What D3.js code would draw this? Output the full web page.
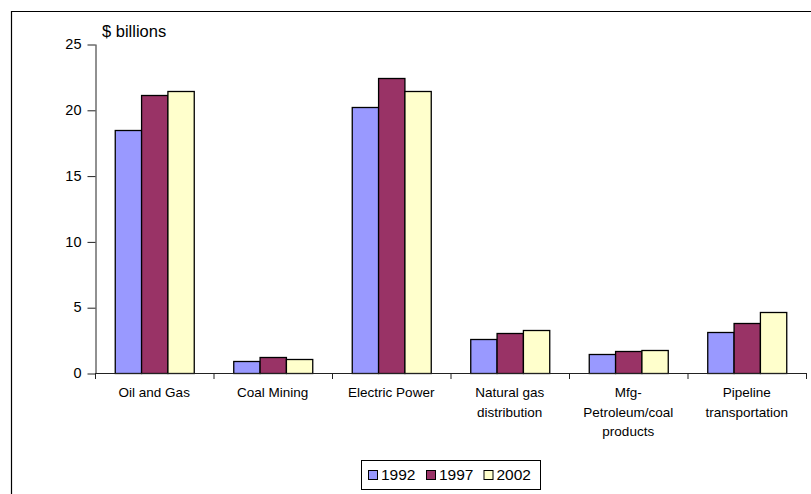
<!DOCTYPE html>
<html>
<head>
<meta charset="utf-8">
<script src="https://cdn.jsdelivr.net/npm/d3@7"></script>
<style>
  html, body { margin: 0; padding: 0; background: #fff; }
  svg { display: block; font-family: "Liberation Sans", Arial, sans-serif; }
</style>
</head>
<body>
<svg id="chart" width="811" height="494"></svg>
<script>
// Industry groups (label lines) and spending by year, $ billions
const categories = [
  ["Oil and Gas"],
  ["Coal Mining"],
  ["Electric Power"],
  ["Natural gas", "distribution"],
  ["Mfg-", "Petroleum/coal", "products"],
  ["Pipeline", "transportation"]
];
const years = ["1992", "1997", "2002"];
const values1992 = [18.5, 0.9, 20.25, 2.6, 1.45, 3.1];
const values1997 = [21.15, 1.2, 22.4, 3.05, 1.65, 3.8];
const values2002 = [21.45, 1.05, 21.45, 3.3, 1.75, 4.6];
const yTicks = [0, 5, 10, 15, 20, 25];

const seriesValues = [values1992, values1997, values2002];
const colors = ["#9999FF", "#993366", "#FFFFCC"];

const svg = d3.select("#chart");

// outer frame (top and left edges)
svg.append("path")
  .attr("d", "M11.5,494 V11.5 H811")
  .attr("fill", "none")
  .attr("stroke", "#000")
  .attr("stroke-width", 1.2);

const plot = { left: 95, right: 806, top: 44, bottom: 373 };

const x = d3.scaleBand()
  .domain(d3.range(categories.length))
  .range([plot.left, plot.right])
  .paddingInner(0)
  .paddingOuter(0);

// three bars per group, gap of 1.5 bar widths between groups
const inner = d3.scaleBand()
  .domain(d3.range(years.length))
  .range([0, x.bandwidth()])
  .paddingInner(0)
  .paddingOuter(0.75);

const y = d3.scaleLinear()
  .domain([0, 25])
  .range([plot.bottom, plot.top]);

// y axis
const yAxis = svg.append("g")
  .attr("transform", `translate(${plot.left + 0.5},0)`)
  .call(d3.axisLeft(y).tickValues(yTicks).tickSize(8).tickSizeOuter(0).tickPadding(6));
yAxis.select(".domain").attr("stroke", "#222");
yAxis.selectAll(".tick line").attr("stroke", "#222").attr("transform", "translate(0,0.5)");
yAxis.selectAll(".tick text")
  .attr("font-size", "14.5px")
  .attr("font-family", "'Liberation Sans', Arial, sans-serif")
  .attr("fill", "#000");

svg.append("text")
  .attr("x", 102)
  .attr("y", 37)
  .attr("font-size", "16.5px")
  .attr("fill", "#000")
  .text("$ billions");

// bars
const groups = svg.append("g").selectAll("g")
  .data(categories.map((c, i) => i))
  .join("g")
  .attr("transform", i => `translate(${x(i)},0)`);

groups.selectAll("rect")
  .data(i => seriesValues.map((s, k) => ({ k, v: s[i] })))
  .join("rect")
  .attr("x", d => inner(d.k) + 0.5)
  .attr("y", d => Math.round(y(d.v)) + 0.5)
  .attr("width", inner.bandwidth())
  .attr("height", d => plot.bottom - Math.round(y(d.v)))
  .attr("fill", d => colors[d.k])
  .attr("stroke", "#000")
  .attr("stroke-width", 1.3);

// x axis line with boundary ticks
const xAxis = svg.append("g");
xAxis.append("line")
  .attr("x1", plot.left).attr("x2", plot.right + 0.5)
  .attr("y1", plot.bottom + 0.5).attr("y2", plot.bottom + 0.5)
  .attr("stroke", "#222");
xAxis.selectAll("line.tick")
  .data(d3.range(categories.length + 1))
  .join("line")
  .attr("class", "tick")
  .attr("x1", i => (i < categories.length ? x(i) : plot.right) + 0.5)
  .attr("x2", i => (i < categories.length ? x(i) : plot.right) + 0.5)
  .attr("y1", plot.bottom)
  .attr("y2", plot.bottom + 6)
  .attr("stroke", "#222");

// category labels
const labels = svg.append("g").selectAll("text")
  .data(categories)
  .join("text")
  .attr("x", (d, i) => x(i) + x.bandwidth() / 2)
  .attr("y", 397)
  .attr("text-anchor", "middle")
  .attr("font-size", "13.5px")
  .attr("fill", "#000");
labels.selectAll("tspan")
  .data(d => d)
  .join("tspan")
  .attr("x", function () { return d3.select(this.parentNode).attr("x"); })
  .attr("dy", (d, j) => j === 0 ? 0 : 19.5)
  .text(d => d);

// legend
const legend = svg.append("g");
legend.append("rect")
  .attr("x", 361.5).attr("y", 460.5)
  .attr("width", 179).attr("height", 29)
  .attr("fill", "#fff")
  .attr("stroke", "#000");
const legendX = [368, 426, 483.5];
const item = legend.selectAll("g.item")
  .data(years)
  .join("g")
  .attr("class", "item")
  .attr("transform", (d, i) => `translate(${legendX[i]},0)`);
item.append("rect")
  .attr("x", 0.5).attr("y", 470.5)
  .attr("width", 9).attr("height", 9)
  .attr("fill", (d, i) => colors[i])
  .attr("stroke", "#000");
item.append("text")
  .attr("x", 13)
  .attr("y", 480)
  .attr("font-size", "15.5px")
  .attr("fill", "#000")
  .text(d => d);
</script>
</body>
</html>
